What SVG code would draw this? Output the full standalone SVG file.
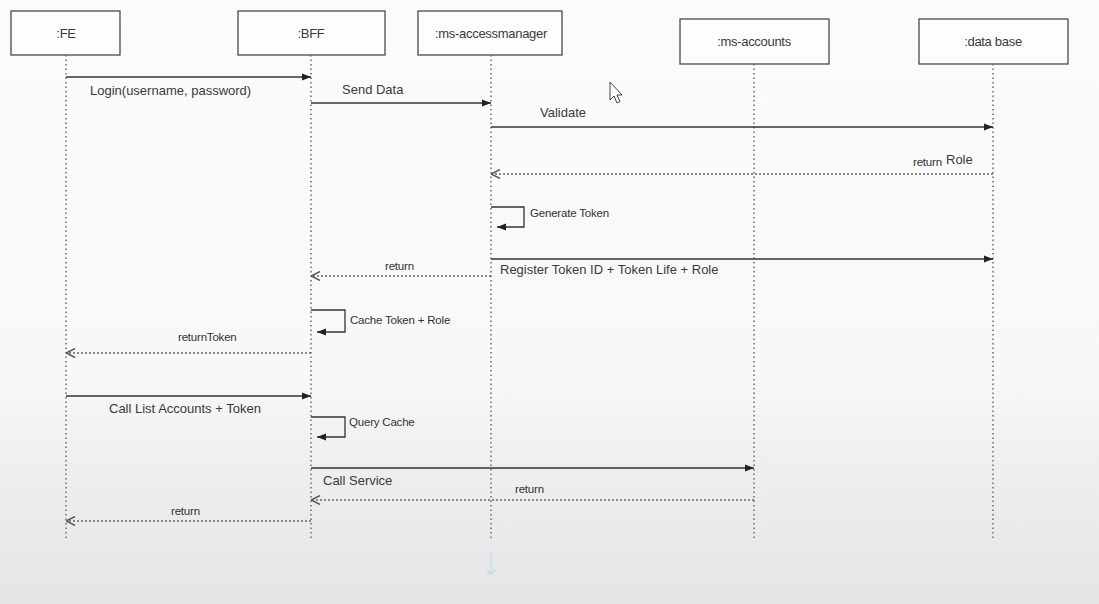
<svg xmlns="http://www.w3.org/2000/svg" width="1099" height="604" viewBox="0 0 1099 604">
<defs>
<linearGradient id="bg" x1="0" y1="0" x2="0" y2="1">
<stop offset="0" stop-color="#fbfbfb"/>
<stop offset="0.62" stop-color="#f8f8f8"/>
<stop offset="0.78" stop-color="#eeeeef"/>
<stop offset="1" stop-color="#e5e5e7"/>
</linearGradient>
<marker id="solid" viewBox="0 0 10 10" refX="10" refY="5" markerWidth="9" markerHeight="9" markerUnits="userSpaceOnUse" orient="auto">
<path d="M0,1 L10,5 L0,9 z" fill="#222"/>
</marker>
<marker id="open" viewBox="0 0 10 10" refX="10" refY="5" markerWidth="10" markerHeight="10" markerUnits="userSpaceOnUse" orient="auto">
<path d="M1,0.5 L10,5 L1,9.5" fill="none" stroke="#555" stroke-width="1.4"/>
</marker>
<marker id="blue" viewBox="0 0 10 10" refX="5" refY="10" markerWidth="8" markerHeight="8" markerUnits="userSpaceOnUse" orient="0">
<path d="M0,3 L5,10 L10,3" fill="none" stroke="#c8dcec" stroke-width="2"/>
</marker>
</defs>
<style>
.box{fill:#fdfdfd;stroke:#4a4a4a;stroke-width:1.3}
.hdr{font-family:"Liberation Sans",Arial,sans-serif;font-size:13px;fill:#3a3a3a;text-anchor:middle;letter-spacing:-0.3px}
.life{stroke:#6a6a6a;stroke-width:1.5;stroke-dasharray:1.5 3;fill:none}
.msg{stroke:#333;stroke-width:1.3;fill:none;marker-end:url(#solid)}
.ret{stroke:#666;stroke-width:1.3;stroke-dasharray:2 2;fill:none;marker-end:url(#open)}
.lbl{font-family:"Liberation Sans",Arial,sans-serif;font-size:13px;fill:#3a3a3a}
.sm{font-family:"Liberation Sans",Arial,sans-serif;font-size:11.5px;fill:#333;letter-spacing:-0.2px}
</style>
<rect x="0" y="0" width="1099" height="604" fill="url(#bg)"/>

<g id="node-fe">
<rect class="box" x="11" y="11" width="109" height="44"/>
<text class="hdr" x="66" y="38">:FE</text>
</g>
<g id="node-bff">
<rect class="box" x="238" y="11" width="147" height="44"/>
<text class="hdr" x="311" y="38">:BFF</text>
</g>
<g id="node-accessmanager">
<rect class="box" x="418" y="11" width="144" height="44"/>
<text class="hdr" x="491" y="38">:ms-accessmanager</text>
</g>
<g id="node-accounts">
<rect class="box" x="680" y="19" width="149" height="45"/>
<text class="hdr" x="754" y="46">:ms-accounts</text>
</g>
<g id="node-database">
<rect class="box" x="919" y="19" width="149" height="45"/>
<text class="hdr" x="993" y="46">:data base</text>
</g>

<g id="connectors">
<line class="life" x1="66" y1="55" x2="66" y2="539"/>
<line class="life" x1="311" y1="55" x2="311" y2="539"/>
<line class="life" x1="491" y1="55" x2="491" y2="539"/>
<line class="life" x1="754" y1="64" x2="754" y2="539"/>
<line class="life" x1="993" y1="64" x2="993" y2="539"/>

<line class="msg" x1="66" y1="77" x2="311" y2="77"/>
<text class="lbl" x="90" y="95">Login(username, password)</text>

<line class="msg" x1="311" y1="103" x2="491" y2="103"/>
<text class="lbl" x="342" y="94">Send Data</text>

<line class="msg" x1="491" y1="127" x2="993" y2="127"/>
<text class="lbl" x="540" y="117">Validate</text>

<line class="ret" x1="993" y1="174" x2="491" y2="174"/>
<text class="sm" x="913" y="166">return</text>
<text class="lbl" x="946" y="164">Role</text>

<path class="msg" d="M491,207 H524 V227 H497"/>
<text class="sm" x="530" y="217">Generate Token</text>

<line class="msg" x1="491" y1="259" x2="993" y2="259"/>
<text class="lbl" x="500" y="274">Register Token ID + Token Life + Role</text>

<line class="ret" x1="491" y1="276" x2="311" y2="276"/>
<text class="sm" x="385" y="270">return</text>

<path class="msg" d="M311,310 H345 V332 H317"/>
<text class="sm" x="350" y="324">Cache Token + Role</text>

<line class="ret" x1="311" y1="353" x2="66" y2="353"/>
<text class="sm" x="178" y="341">returnToken</text>

<line class="msg" x1="66" y1="396" x2="311" y2="396"/>
<text class="lbl" x="109" y="413">Call List Accounts + Token</text>

<path class="msg" d="M311,417 H345 V437 H317"/>
<text class="sm" x="349" y="426">Query Cache</text>

<line class="msg" x1="311" y1="468" x2="754" y2="468"/>
<text class="lbl" x="323" y="485">Call Service</text>

<line class="ret" x1="754" y1="500" x2="311" y2="500"/>
<text class="sm" x="515" y="493">return</text>

<line class="ret" x1="311" y1="521" x2="66" y2="521"/>
<text class="sm" x="171" y="515">return</text>
</g>

<line x1="491" y1="552" x2="491" y2="575" stroke="#d2e2ef" stroke-width="2" marker-end="url(#blue)"/>
<path d="M610,82 L610,100 L614,96 L617,103 L620,101.5 L617,95 L622,95 Z" fill="#fff" stroke="#444" stroke-width="1"/>
</svg>
